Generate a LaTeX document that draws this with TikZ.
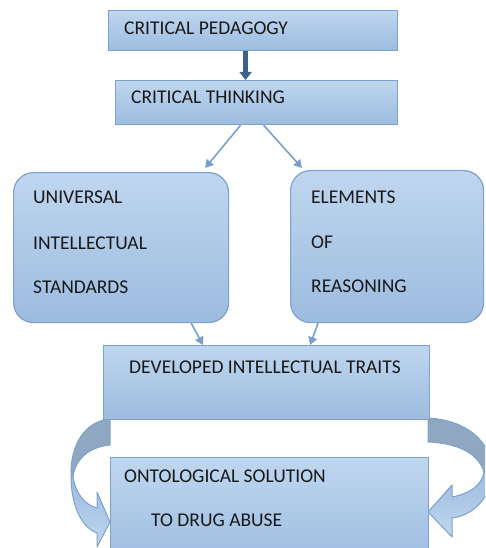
\documentclass[tikz,border=0pt]{standalone}
\usepackage{fontspec}
\setmainfont{Carlito}
\usepackage{tikz}
\usetikzlibrary{calc,arrows.meta}

\definecolor{boxtop}{RGB}{191,214,239}
\definecolor{boxbottom}{RGB}{156,188,223}
\definecolor{boxline}{RGB}{126,161,201}
\definecolor{linkblue}{RGB}{121,160,201}
\definecolor{darkblue}{RGB}{62,96,141}
\definecolor{backside}{RGB}{144,167,194}
\definecolor{inkgray}{RGB}{25,25,25}

\tikzset{
    box/.style={draw=boxline, line width=1.2pt, top color=boxtop, bottom color=boxbottom, anchor=north west, inner sep=0pt},
    roundbox/.style={box, rounded corners=20pt},
    txt/.style={anchor=base west, inner sep=0pt, text=inkgray, font=\fontsize{19.5}{22}\selectfont},
    link/.style={draw=linkblue, line width=1.6pt, -{Triangle[length=8pt,width=9pt]}},
    bigarrow/.style={draw=darkblue, line width=5pt, -{Triangle[length=8pt,width=12pt]}},
    curvearrow/.style={draw=boxline, line width=1pt, line join=round}
}

\begin{document}
\begin{tikzpicture}[x=1pt,y=-1pt]
                \useasboundingbox (0,0) rectangle (485,548);
                \clip (0,0) rectangle (485,548);

                % curved block arrows down to the solution box
                \path[curvearrow, fill=backside] (110,419) -- (110,445) .. controls (90,447) and (76,458) .. (73,476) -- (71,476) .. controls (70,445) and (85,421) .. (110,419) -- cycle;
                \path[curvearrow, top color=boxbottom, bottom color=boxtop] (71,476) .. controls (71,506) and (82,528) .. (97,533) -- (97,547) -- (110,522) -- (97,492) -- (97,508) .. controls (85,505) and (75,493) .. (73,476) -- cycle;
                \path[curvearrow, fill=backside] (428,418) .. controls (465,420) and (491,440) .. (492,470) -- (484,472) .. controls (478,452) and (455,443) .. (428,442) -- cycle;
                \path[curvearrow, top color=boxbottom, bottom color=boxtop] (492,470) .. controls (492,496) and (475,515) .. (452,518) -- (452,537) -- (428,512) -- (452,485) -- (452,497) .. controls (468,494) and (482,486) .. (484,472) -- cycle;

                \node[box, minimum width=289pt, minimum height=40pt] (ped) at (108,10) {};
                \node[box, minimum width=282pt, minimum height=44pt] (think) at (115,80) {};
                \node[roundbox, minimum width=215pt, minimum height=150pt] (univ) at (13,172) {};
                \node[roundbox, minimum width=193pt, minimum height=152pt] (elem) at (290,170) {};
                \node[box, minimum width=326pt, minimum height=74pt] (dev) at (103,345) {};
                \node[box, minimum width=318pt, minimum height=110pt] (ont) at (110,457) {};

                \draw[bigarrow] ($(ped.south)+(-7.5,0)$) -- ($(think.north)+(-11,0)$);
                \draw[link] ($(think.south)+(-16,0)$) -- ($(univ.north east)+(-24,-4)$);
                \draw[link] ($(think.south)+(7,0)$) -- ($(elem.north west)+(12,-2)$);
                \draw[link] ($(univ.south east)+(-38,0)$) -- ($(dev.north west)+(100,0)$);
                \draw[link] ($(elem.south west)+(28,0)$) -- ($(dev.north west)+(207,0)$);

                \node[txt] (pedtxt) at (124,35) {CRITICAL PEDAGOGY};
                \node[txt] (thinktxt) at (131,104) {CRITICAL THINKING};
                \node[txt] (univa) at (33,203) {UNIVERSAL};
                \node[txt] (univb) at (33,249) {INTELLECTUAL};
                \node[txt] (univc) at (33,293) {STANDARDS};
                \node[txt] (elema) at (311,203) {ELEMENTS};
                \node[txt] (elemb) at (311,248) {OF};
                \node[txt] (elemc) at (311,292) {REASONING};
                \node[txt] (devtxt) at (129,373) {DEVELOPED INTELLECTUAL TRAITS};
                \node[txt] (onta) at (124,482) {ONTOLOGICAL SOLUTION};
                \node[txt] (ontb) at (151,526) {TO DRUG ABUSE};
            \end{tikzpicture}
\end{document}
